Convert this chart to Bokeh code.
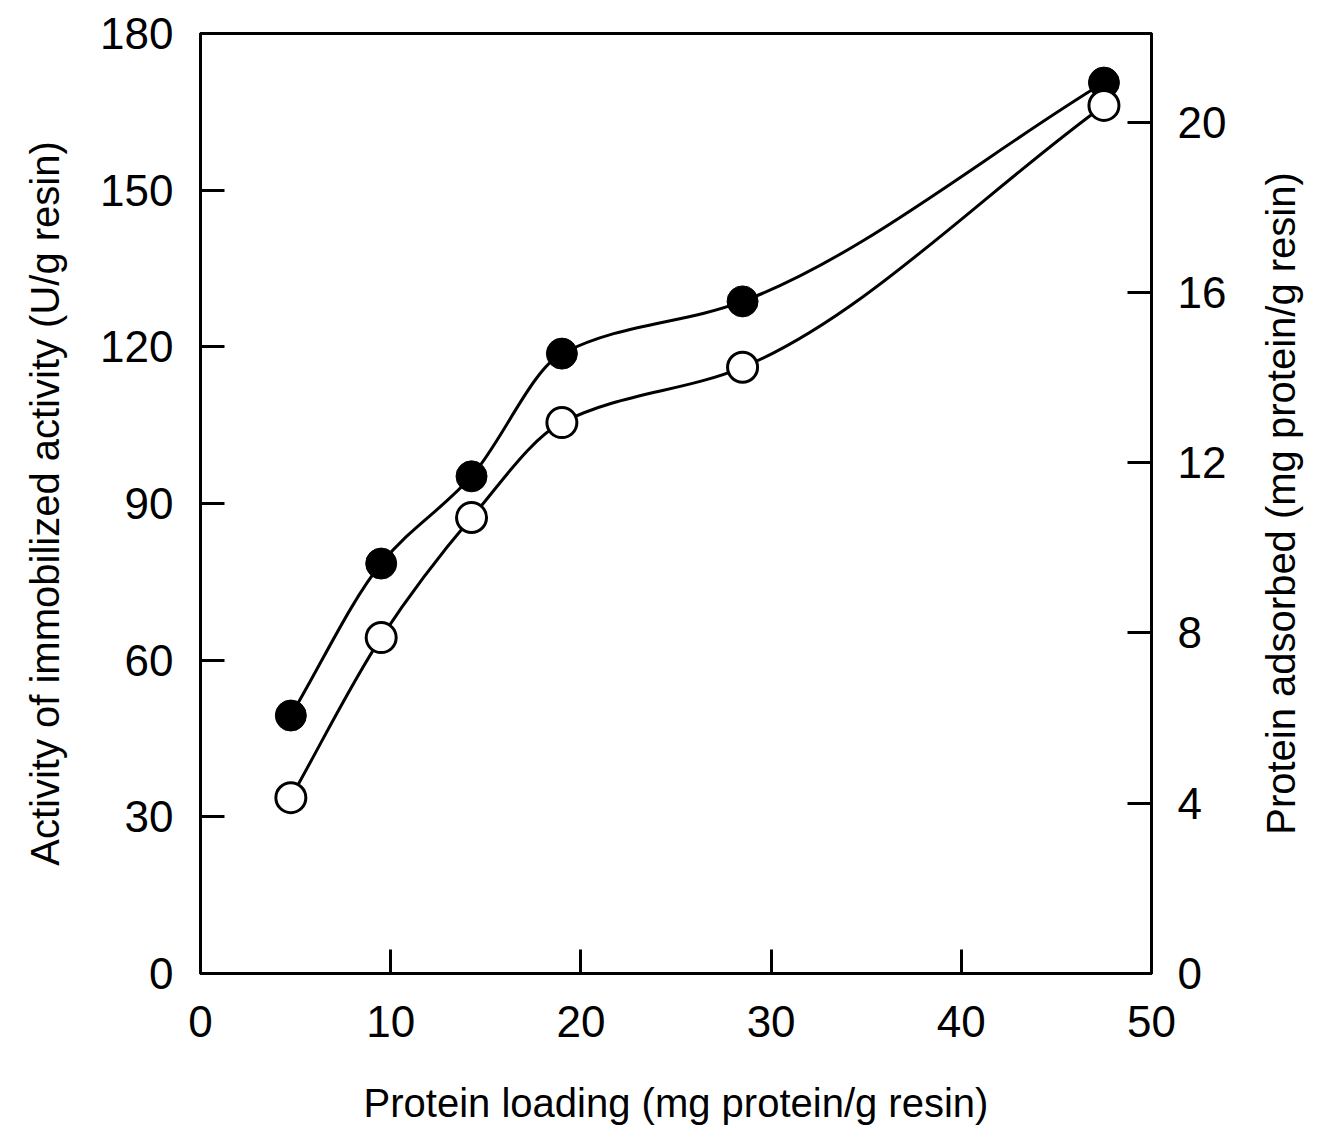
import numpy as np
from bokeh.plotting import figure
from bokeh.layouts import row
from bokeh.models import Range1d, LinearAxis, FixedTicker, Title
from bokeh.embed import file_html
from bokeh.resources import INLINE

# Data
loading = [4.75, 9.5, 14.25, 19.0, 28.5, 47.5]
activity = [49.4, 78.5, 95.2, 118.7, 128.7, 170.6]          # filled circles, left axis
adsorbed = [4.13, 7.89, 10.71, 12.94, 14.24, 20.39]          # open circles, right axis
x_ticks = [0, 10, 20, 30, 40, 50]
left_ticks = [0, 30, 60, 90, 120, 150, 180]
right_ticks = [0, 4, 8, 12, 16, 20]

FONT = "Liberation Sans"
FRAME_W, FRAME_H = 951, 940

def smooth_segments(x, y):
    """Monotone cubic (Fritsch-Carlson) Bezier control points between data points."""
    x = np.asarray(x, float); y = np.asarray(y, float)
    h = np.diff(x); d = np.diff(y) / h
    m = np.zeros_like(y)
    m[0] = d[0]; m[-1] = d[-1]
    for i in range(1, len(x) - 1):
        if d[i - 1] * d[i] <= 0:
            m[i] = 0
        else:
            w1 = 2 * h[i] + h[i - 1]; w2 = h[i] + 2 * h[i - 1]
            m[i] = (w1 + w2) / (w1 / d[i - 1] + w2 / d[i])
    x0 = x[:-1]; x1 = x[1:]; y0 = y[:-1]; y1 = y[1:]
    cx0 = x0 + h / 3; cy0 = y0 + m[:-1] * h / 3
    cx1 = x1 - h / 3; cy1 = y1 - m[1:] * h / 3
    return dict(x0=x0, y0=y0, x1=x1, y1=y1, cx0=cx0, cy0=cy0, cx1=cx1, cy1=cy1)

p = figure(frame_width=FRAME_W, frame_height=FRAME_H, output_backend="svg", toolbar_location=None,
           x_range=Range1d(0, 50), y_range=Range1d(0, 180),
           min_border_left=200, min_border_right=100, min_border_top=33, min_border_bottom=147)
p.extra_y_ranges = {"right": Range1d(0, 22.08)}
p.grid.visible = False
p.outline_line_color = "black"
p.outline_line_width = 3
p.background_fill_color = "white"
p.border_fill_color = "white"

s1 = smooth_segments(loading, activity)
p.bezier(**s1, line_color="black", line_width=3)
s2 = smooth_segments(loading, adsorbed)
p.bezier(**s2, line_color="black", line_width=3, y_range_name="right")

p.scatter(loading, activity, size=31, marker="circle", fill_color="black", line_color="black")
p.scatter(loading, adsorbed, size=30, marker="circle", fill_color="white", line_color="black",
          line_width=3, y_range_name="right")

def style(ax):
    ax.axis_line_width = 3
    ax.major_tick_in = 24
    ax.major_tick_out = 0
    ax.major_tick_line_width = 3
    ax.minor_tick_line_color = None
    ax.major_label_text_font = FONT
    ax.major_label_text_font_size = "44px"
    ax.major_label_text_color = "black"
    ax.axis_label_text_font = FONT
    ax.axis_label_text_font_size = "40px"
    ax.axis_label_text_font_style = "normal"
    ax.axis_label_text_color = "black"

xa = p.xaxis[0]
xa.ticker = FixedTicker(ticks=x_ticks)
xa.axis_label = "Protein loading (mg protein/g resin)"
style(xa)
xa.major_label_standoff = 32
xa.axis_label_standoff = 41

ya = p.yaxis[0]
ya.ticker = FixedTicker(ticks=left_ticks)
ya.axis_label = "Activity of immobilized activity (U/g resin)"
style(ya)
ya.major_label_standoff = 27
ya.axis_label_standoff = 30

ra = LinearAxis(y_range_name="right", ticker=FixedTicker(ticks=right_ticks))
style(ra)
ra.major_label_standoff = 26
p.add_layout(ra, "right")

# Narrow companion figure carrying the right-hand title, reading bottom to top
p2 = figure(frame_width=4, frame_height=FRAME_H, output_backend="svg", toolbar_location=None,
            min_border_left=0, min_border_right=0, min_border_top=33, min_border_bottom=147)
p2.axis.visible = False
p2.grid.visible = False
p2.outline_line_color = None
p2.background_fill_color = "white"
p2.border_fill_color = "white"
p2.add_layout(Title(text="Protein adsorbed (mg protein/g resin)", align="center",
                    text_font=FONT, text_font_size="40px", text_font_style="normal",
                    text_color="black"), "left")

layout = row(p, p2)
open("out.html", "w").write(file_html(layout, INLINE))
